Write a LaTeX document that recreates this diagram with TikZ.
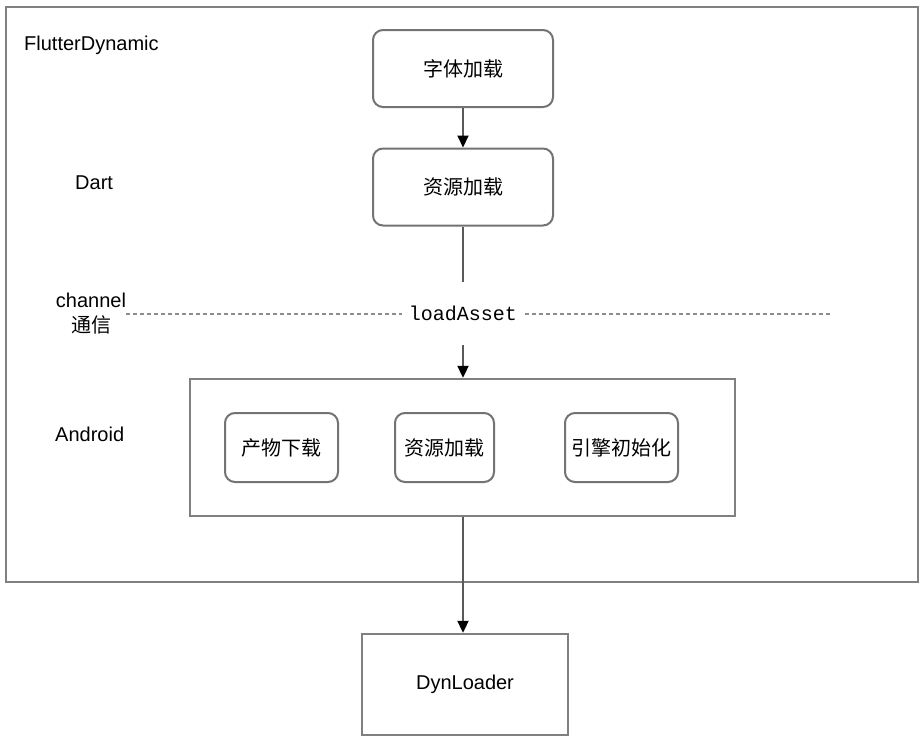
\documentclass[tikz,border=0pt]{standalone}
\usepackage{fontspec}
\setmainfont{Liberation Sans}
\setmonofont{Liberation Mono}
\newfontfamily\cjk{Noto Sans CJK SC}
\usetikzlibrary{arrows.meta}
\begin{document}
\begin{tikzpicture}[x=1pt,y=-1pt,
  frame/.style={draw=black!50, line width=2.4pt},
  stepbox/.style={draw=black!55, line width=2pt, rounded corners=10pt, fill=white,
    minimum width=180pt, minimum height=77pt, font=\fontsize{20}{23}\selectfont\cjk},
  innerbox/.style={draw=black!55, line width=2pt, rounded corners=10pt, fill=white,
    minimum width=113pt, minimum height=69pt, font=\fontsize{20}{23}\selectfont\cjk},
  lbl/.style={font=\fontsize{20}{24}\selectfont, anchor=west, inner sep=0pt},
  flow/.style={draw=black!65, line width=2pt, -{Triangle[width=11pt,length=12pt,color=black]}},
]
\useasboundingbox (0,0) rectangle (920,736);
\fill[white] (0,0) rectangle (920,736);

% outer FlutterDynamic frame
\node[frame, minimum width=912pt, minimum height=575pt, inner sep=0pt] (outer) at (462,294.5) {};
\node[lbl] (fd) at (24,45) {FlutterDynamic};
\node[lbl] (dart) at (75,183) {Dart};
\node[font=\fontsize{20}{25}\selectfont, align=center, inner sep=0pt] (chan) at (91,314) {channel\\{\cjk 通信}};
\node[lbl] (andr) at (55,434) {Android};

% Dart side steps
\node[stepbox] (font) at (463,68.5) {字体加载};
\node[stepbox] (res) at (463,187) {资源加载};

% channel divider
\coordinate (divl) at (126,314);
\coordinate (divr) at (832,314);
\draw[draw=black!45, line width=2.4pt, dash pattern=on 4pt off 3pt] (divl) -- (divr);

% Android container and its tasks
\node[frame, minimum width=545pt, minimum height=137pt, inner sep=0pt] (android) at (462.5,447.5) {};
\node[innerbox] (dl) at (281.5,447.5) {产物下载};
\node[innerbox, minimum width=99pt] (ares) at (444.5,447.5) {资源加载};
\node[innerbox] (eng) at (621.5,447.5) {引擎初始化};

% DynLoader
\node[frame, minimum width=206pt, minimum height=101pt, inner sep=0pt,
  font=\fontsize{20}{23}\selectfont] (dyn) at (465,684.5) {DynLoader};

% connectors
\draw[flow] (font.south -| 463,0) -- (res.north -| 463,0);
\draw[flow] (res.south -| 463,0) -- node[pos=0.572, fill=white, minimum width=122pt, minimum height=63pt,
  inner sep=0pt, font=\fontsize{20}{23}\selectfont\ttfamily] (la) {loadAsset} (android.north -| 463,0);
\draw[flow] (android.south -| 463,0) -- (dyn.north -| 463,0);
\end{tikzpicture}
\end{document}
